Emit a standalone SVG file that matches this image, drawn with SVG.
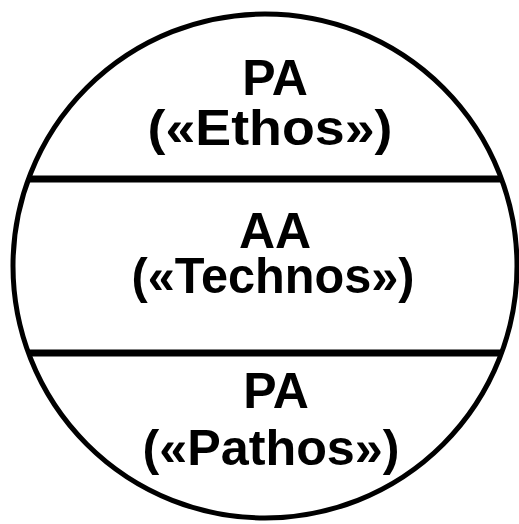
<svg xmlns="http://www.w3.org/2000/svg" width="519" height="524" viewBox="0 0 519 524">
<style>
.t{font-family:"Liberation Sans",Arial,sans-serif;font-weight:bold;font-size:50px;fill:#000;text-anchor:middle}
.o{fill:none;stroke:#000;stroke-width:5}
.d{stroke:#000;stroke-width:7}
</style>
<rect width="519" height="524" fill="#fff"/>
<g id="circle"><circle class="o" cx="265" cy="266" r="252"/></g>
<g id="connectors">
<line class="d" x1="28" y1="179" x2="502" y2="179"/>
<line class="d" x1="28" y1="353" x2="502" y2="353"/>
</g>
<g id="ethos">
<text class="t" x="275" y="95">PA</text>
<text class="t" x="270" y="145" textLength="245" lengthAdjust="spacingAndGlyphs">(«Ethos»)</text>
</g>
<g id="technos">
<text class="t" x="275" y="248">AA</text>
<text class="t" x="273" y="293" textLength="283" lengthAdjust="spacingAndGlyphs">(«Technos»)</text>
</g>
<g id="pathos">
<text class="t" x="276" y="408">PA</text>
<text class="t" x="271" y="465" textLength="257" lengthAdjust="spacingAndGlyphs">(«Pathos»)</text>
</g>
</svg>
